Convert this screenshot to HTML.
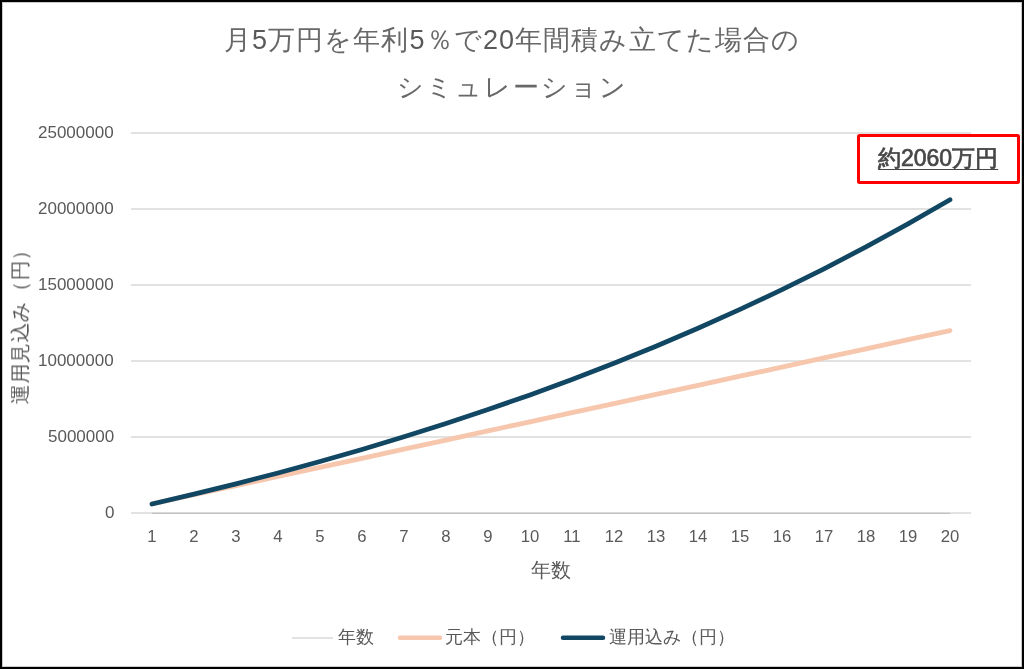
<!DOCTYPE html>
<html lang="ja">
<head>
<meta charset="utf-8">
<style>
html,body{margin:0;padding:0;background:#fff;}
body{width:1024px;height:669px;position:relative;overflow:hidden;font-family:"Liberation Sans",sans-serif;color:#595959;}
.frame{position:absolute;left:0;top:0;width:1024px;height:669px;box-sizing:border-box;border:2px solid #000;box-shadow:inset 0 0 0 1px rgba(0,0,0,0.2);}
.t{position:absolute;white-space:nowrap;line-height:1;will-change:transform;}
.title1 b{font-weight:normal;color:#595959;}
.title1{color:#686868;left:0;width:1024px;text-align:center;top:27px;font-size:27px;letter-spacing:1.1px;text-indent:0px;}
.title2{color:#686868;left:0;width:1024px;text-align:center;top:74px;font-size:26px;letter-spacing:2px;}
.yl{right:910px;font-size:17px;text-align:right;}
.xl{font-size:16.7px;width:40px;text-align:center;}
.box{position:absolute;left:857px;top:133.5px;width:163px;height:50.2px;box-sizing:border-box;border:3.4px solid #ff0000;border-radius:2.5px;background:#fff;}
.boxt{position:absolute;left:878px;top:147px;font-size:23px;font-weight:normal;-webkit-text-stroke:0.7px #474747;color:#474747;text-decoration:underline;text-decoration-thickness:1px;text-underline-offset:3px;}
</style>
</head>
<body>
<svg width="1024" height="669" style="position:absolute;left:0;top:0">
  <g stroke="#d9d9d9" stroke-width="1.5" fill="none">
    <line x1="131" y1="133" x2="971" y2="133"/>
    <line x1="131" y1="209" x2="971" y2="209"/>
    <line x1="131" y1="285" x2="971" y2="285"/>
    <line x1="131" y1="361" x2="971" y2="361"/>
    <line x1="131" y1="437" x2="971" y2="437"/>
    <line x1="131" y1="513" x2="971" y2="513"/>
  </g>
  <line x1="152" y1="513.3" x2="950" y2="513.3" stroke="#c2c2c2" stroke-width="1.3"/>
  <polyline fill="none" stroke="#f6c6ad" stroke-width="4.8" stroke-linecap="round" stroke-linejoin="round"
    points="152,503.88 194,494.76 236,485.64 278,476.52 320,467.40 362,458.28 404,449.16 446,440.04 488,430.92 530,421.80 572,412.68 614,403.56 656,394.44 698,385.32 740,376.20 782,367.08 824,357.96 866,348.84 908,339.72 950,330.60"/>
  <polyline fill="none" stroke="#124764" stroke-width="4.75" transform="translate(0,0.4)" stroke-linecap="round" stroke-linejoin="round"
    points="152,503.63 194,493.78 236,483.42 278,472.54 320,461.10 362,449.07 404,436.43 446,423.14 488,409.18 530,394.49 572,379.06 614,362.84 656,345.78 698,327.86 740,309.01 782,289.21 824,268.39 866,246.50 908,223.50 950,199.31"/>
  <!-- legend -->
  <line x1="292" y1="638" x2="333" y2="638" stroke="#d9d9d9" stroke-width="1.5"/>
  <line x1="400" y1="637.7" x2="440" y2="637.7" stroke="#f6c6ad" stroke-width="4.5" stroke-linecap="round"/>
  <line x1="563" y1="637.7" x2="603" y2="637.7" stroke="#124764" stroke-width="4.5" stroke-linecap="round"/>
</svg>

<div class="t title1">月<b>5</b>万円を年利<b>5</b>％で<b>20</b>年間積み立てた場合の</div>
<div class="t title2">シミュレーション</div>

<div class="t yl" style="top:124.3px">25000000</div>
<div class="t yl" style="top:200.3px">20000000</div>
<div class="t yl" style="top:276.3px">15000000</div>
<div class="t yl" style="top:352.3px">10000000</div>
<div class="t yl" style="top:428.3px">5000000</div>
<div class="t yl" style="top:504.3px">0</div>

<div class="t xl" style="left:132px;top:529.2px">1</div>
<div class="t xl" style="left:174px;top:529.2px">2</div>
<div class="t xl" style="left:216px;top:529.2px">3</div>
<div class="t xl" style="left:258px;top:529.2px">4</div>
<div class="t xl" style="left:300px;top:529.2px">5</div>
<div class="t xl" style="left:342px;top:529.2px">6</div>
<div class="t xl" style="left:384px;top:529.2px">7</div>
<div class="t xl" style="left:426px;top:529.2px">8</div>
<div class="t xl" style="left:468px;top:529.2px">9</div>
<div class="t xl" style="left:510px;top:529.2px">10</div>
<div class="t xl" style="left:552px;top:529.2px">11</div>
<div class="t xl" style="left:594px;top:529.2px">12</div>
<div class="t xl" style="left:636px;top:529.2px">13</div>
<div class="t xl" style="left:678px;top:529.2px">14</div>
<div class="t xl" style="left:720px;top:529.2px">15</div>
<div class="t xl" style="left:762px;top:529.2px">16</div>
<div class="t xl" style="left:804px;top:529.2px">17</div>
<div class="t xl" style="left:846px;top:529.2px">18</div>
<div class="t xl" style="left:888px;top:529.2px">19</div>
<div class="t xl" style="left:930px;top:529.2px">20</div>

<div class="t" style="left:531px;top:560px;font-size:20px">年数</div>
<div class="t" style="left:20px;top:322px;font-size:20px;letter-spacing:0.6px;transform:translate(-50%,-50%) rotate(-90deg);transform-origin:50% 50%">運用見込み（円）</div>

<div class="t" style="left:338px;top:628px;font-size:18px">年数</div>
<div class="t" style="left:445px;top:628px;font-size:18px">元本（円）</div>
<div class="t" style="left:609px;top:628px;font-size:18px">運用込み（円）</div>

<div class="box"></div>
<div class="t boxt">約2060万円</div>

<div class="frame"></div>
</body>
</html>
